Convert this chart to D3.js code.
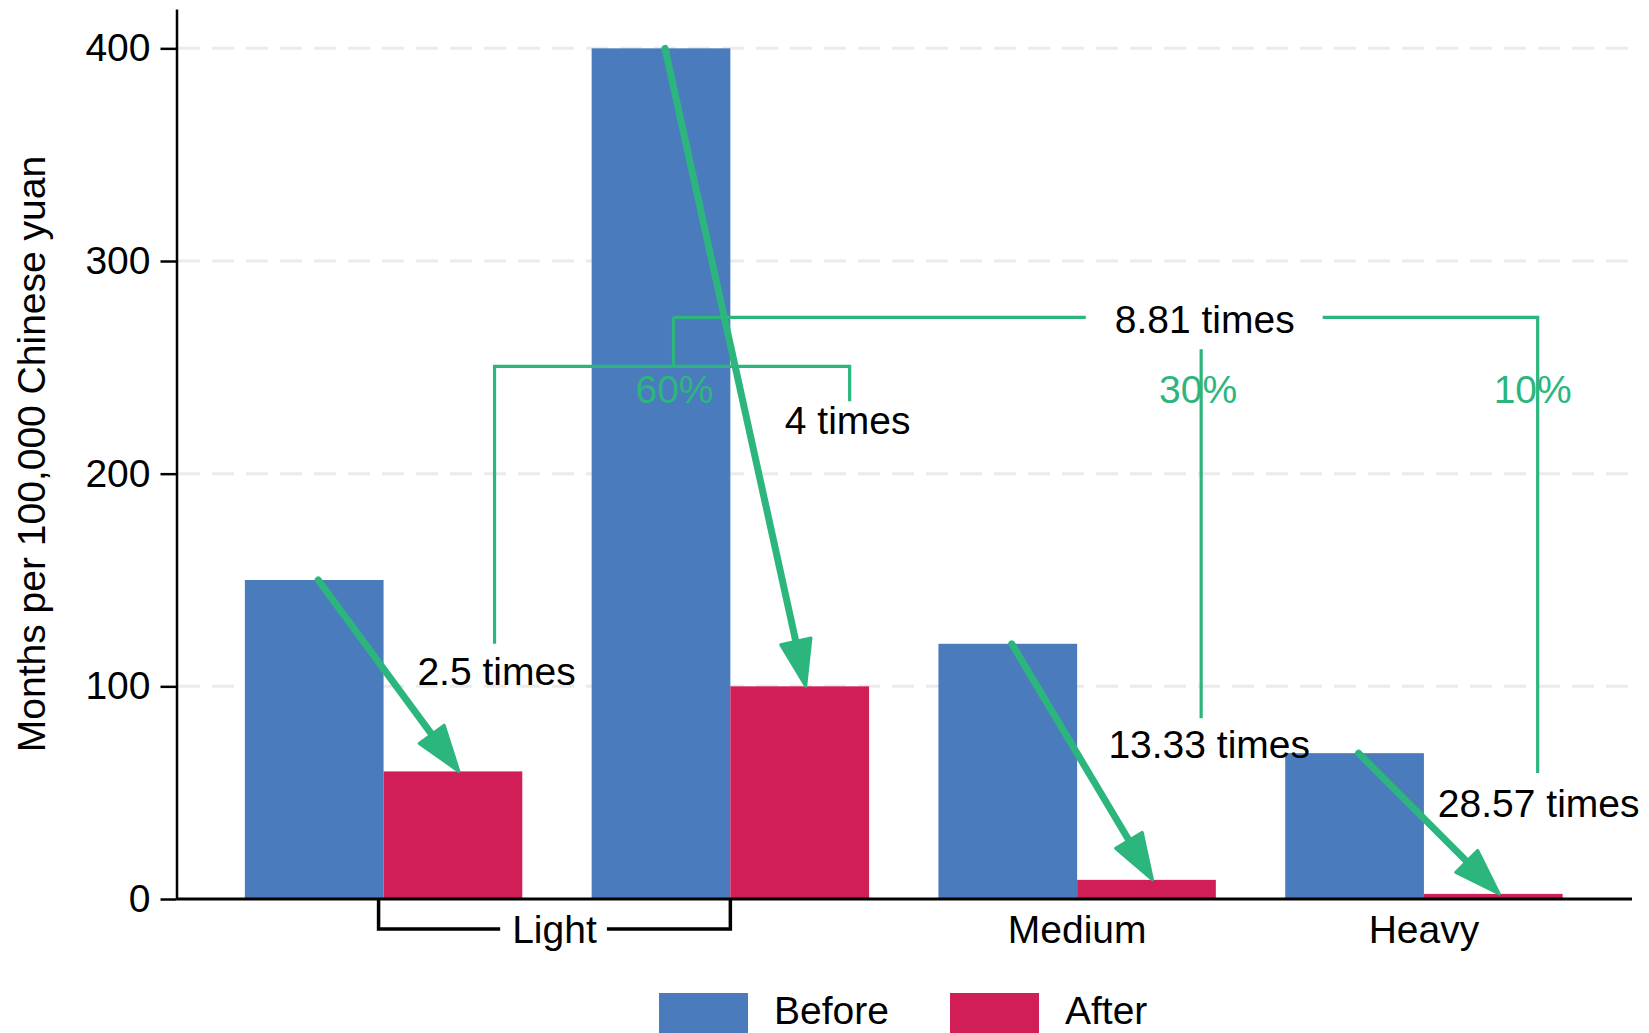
<!DOCTYPE html>
<html>
<head>
<meta charset="utf-8">
<script src="https://cdn.jsdelivr.net/npm/d3@7"></script>
<style>
  body { margin: 0; background: #fff; }
  text { font-family: "Liberation Sans", Arial, Helvetica, sans-serif; }
</style>
</head>
<body>
<svg id="chart" width="1649" height="1033"></svg>
<script>
// ---- data ----
const groups = ["Light A", "Light B", "Medium", "Heavy"];
const axisLabels = ["Light", "Medium", "Heavy"];
const series = ["Before", "After"];
const beforeValues = [150, 400, 120, 68.57];
const afterValues = [60, 100, 9, 2.4];
const shareValues = [0.6, 0.3, 0.1];
const yTicks = [0, 100, 200, 300, 400];

// ---- derived ratios ----
const ratios = beforeValues.map((b, i) => b / afterValues[i]);
const lightRatio = (ratios[0] + ratios[1]) / 2;
const overallRatio = shareValues[0] * lightRatio + shareValues[1] * ratios[2] + shareValues[2] * ratios[3];
const fmtTimes = v => d3.format(".2~f")(v) + " times";
const fmtPct = d3.format(".0%");

// ---- style ----
const BLUE = "#4a7bbd", RED = "#d21e57", GREEN = "#2cb67d", GRID = "#ebebeb";
const FONT = 39;

const svg = d3.select("#chart");

const x = d3.scaleBand().domain(groups).range([175.5, 1632]).paddingInner(0.2).paddingOuter(0.2);
const xs = d3.scaleBand().domain(series).range([0, x.bandwidth()]);
const y = d3.scaleLinear().domain([0, 418.5]).range([899, 9]);
const color = d3.scaleOrdinal().domain(series).range([BLUE, RED]);

const rows = groups.map((g, i) => ({ group: g, Before: beforeValues[i], After: afterValues[i] }));
const bx = (g, f) => x(g) + f * x.bandwidth();
const mid = g => x(g) + x.bandwidth() / 2;

// gridlines
svg.append("g").selectAll("line")
  .data(yTicks.filter(t => t > 0))
  .join("line")
  .attr("x1", 178).attr("x2", 1632)
  .attr("y1", d => y(d)).attr("y2", d => y(d))
  .attr("stroke", GRID).attr("stroke-width", 3)
  .attr("stroke-dasharray", "22,12");

// bars
svg.append("g").selectAll("g")
  .data(rows)
  .join("g")
  .attr("transform", d => `translate(${x(d.group)},0)`)
  .selectAll("rect")
  .data(d => series.map(s => ({ key: s, value: d[s] })))
  .join("rect")
  .attr("x", d => xs(d.key))
  .attr("width", xs.bandwidth())
  .attr("y", d => y(d.value))
  .attr("height", d => y(0) - y(d.value))
  .attr("fill", d => color(d.key));

// y axis
const yAxis = svg.append("g")
  .attr("transform", `translate(176.5,0)`)
  .call(d3.axisLeft(y).tickValues(yTicks).tickSize(16).tickSizeOuter(0).tickPadding(10));
yAxis.select(".domain").attr("stroke", "#000").attr("stroke-width", 2.5);
yAxis.selectAll(".tick line").attr("stroke", "#000").attr("stroke-width", 2.5);
yAxis.selectAll(".tick text").attr("font-size", FONT).attr("fill", "#000")
  .style("font-family", '"Liberation Sans", Arial, sans-serif');

// x axis line
svg.append("line")
  .attr("x1", 176.5).attr("x2", x.range()[1])
  .attr("y1", y(0)).attr("y2", y(0))
  .attr("stroke", "#000").attr("stroke-width", 3);

// y axis title
svg.append("text")
  .attr("transform", `translate(45,${(y(0) + y.range()[1]) / 2}) rotate(-90)`)
  .attr("text-anchor", "middle")
  .attr("font-size", FONT)
  .text("Months per 100,000 Chinese yuan");

// category labels
const labelBase = 943;
const lightLeft = mid(groups[0]) - 5, lightRight = mid(groups[1]);
const lightText = svg.append("text")
  .attr("x", (lightLeft + lightRight) / 2).attr("y", labelBase)
  .attr("text-anchor", "middle").attr("font-size", FONT)
  .text(axisLabels[0]);
const lb = lightText.node().getBBox();
const bracketY = 929;
svg.append("path")
  .attr("d", `M${lb.x - 12},${bracketY}H${lightLeft}V${y(0)}M${lb.x + lb.width + 10},${bracketY}H${lightRight}V${y(0)}`)
  .attr("fill", "none").attr("stroke", "#000").attr("stroke-width", 3.5);
svg.append("text")
  .attr("x", mid(groups[2])).attr("y", labelBase)
  .attr("text-anchor", "middle").attr("font-size", FONT).text(axisLabels[1]);
svg.append("text")
  .attr("x", mid(groups[3])).attr("y", labelBase)
  .attr("text-anchor", "middle").attr("font-size", FONT).text(axisLabels[2]);

// ---- annotation layout (band fractions and value levels) ----
const ann = {
  lightLeftX: bx("Light A", 0.9),
  lightRightX: bx("Light B", 0.93),
  lightStemX: bx("Light B", 0.295),
  mediumX: bx("Medium", 0.947),
  heavyX: bx("Heavy", 0.91),
  topLevel: 273.5,
  lightLevel: 250.5
};
const G = svg.append("g").attr("fill", "none").attr("stroke", GREEN).attr("stroke-width", 3.2);

// light bracket
G.append("path").attr("d",
  `M${ann.lightLeftX},${y(120)}V${y(ann.lightLevel)}H${ann.lightRightX}V${y(234)}`);
G.append("path").attr("d",
  `M${ann.lightStemX},${y(ann.lightLevel)}V${y(ann.topLevel)}`);

// overall label and top bracket
const overallText = svg.append("text")
  .attr("x", bx("Medium", 0.96)).attr("y", y(266.2))
  .attr("text-anchor", "middle").attr("font-size", FONT)
  .text(fmtTimes(overallRatio));
const ob = overallText.node().getBBox();
G.append("path").attr("d",
  `M${ann.lightStemX},${y(ann.topLevel)}H${ob.x - 29}`);
G.append("path").attr("d",
  `M${ob.x + ob.width + 28},${y(ann.topLevel)}H${ann.heavyX}V${y(59.3)}`);
G.append("path").attr("d",
  `M${ann.mediumX},${y(258.5)}V${y(85)}`);

// shares
const shareX = [ann.lightStemX + 1, ann.mediumX - 3, ann.heavyX - 5];
svg.append("g").selectAll("text")
  .data(shareValues)
  .join("text")
  .attr("x", (d, i) => shareX[i]).attr("y", y(233.2))
  .attr("text-anchor", "middle").attr("font-size", FONT)
  .attr("fill", GREEN)
  .text(d => fmtPct(d));

// ratio labels
const ratioPos = [
  { x: ann.lightLeftX + 2, v: 100.6 },
  { x: ann.lightRightX - 2, v: 218.7 },
  { x: bx("Medium", 0.976), v: 66.3 },
  { x: ann.heavyX + 1, v: 38.6 }
];
svg.append("g").selectAll("text")
  .data(ratios)
  .join("text")
  .attr("x", (d, i) => ratioPos[i].x).attr("y", (d, i) => y(ratioPos[i].v))
  .attr("text-anchor", "middle").attr("font-size", FONT)
  .text(d => fmtTimes(d));

// arrows from each Before bar top to its After bar top
const HEAD_L = 46, HEAD_W = 31;
const arrows = svg.append("g");
rows.forEach(d => {
  const x0 = x(d.group) + xs("Before") + xs.bandwidth() / 2 + 4;
  const y0 = y(d.Before);
  const x1 = x(d.group) + xs("After") + xs.bandwidth() / 2 + 6;
  const y1 = y(d.After);
  const len = Math.hypot(x1 - x0, y1 - y0);
  const ux = (x1 - x0) / len, uy = (y1 - y0) / len;
  const nx = -uy, ny = ux;
  const bxp = x1 - HEAD_L * ux, byp = y1 - HEAD_L * uy;
  arrows.append("line")
    .attr("x1", x0).attr("y1", y0)
    .attr("x2", x1 - (HEAD_L - 6) * ux).attr("y2", y1 - (HEAD_L - 6) * uy)
    .attr("stroke", GREEN).attr("stroke-width", 7).attr("stroke-linecap", "round");
  arrows.append("path")
    .attr("d", `M${x1},${y1}L${bxp + nx * HEAD_W / 2},${byp + ny * HEAD_W / 2}L${bxp - nx * HEAD_W / 2},${byp - ny * HEAD_W / 2}Z`)
    .attr("fill", GREEN).attr("stroke", GREEN).attr("stroke-width", 3).attr("stroke-linejoin", "round");
});

// legend
const legendX = [659, 950];
const legend = svg.append("g").selectAll("g")
  .data(series)
  .join("g")
  .attr("transform", (d, i) => `translate(${legendX[i]},993)`);
legend.append("rect").attr("width", 89).attr("height", 42).attr("fill", d => color(d));
legend.append("text").attr("x", 115).attr("y", 31).attr("font-size", FONT).text(d => d);
</script>
</body>
</html>
